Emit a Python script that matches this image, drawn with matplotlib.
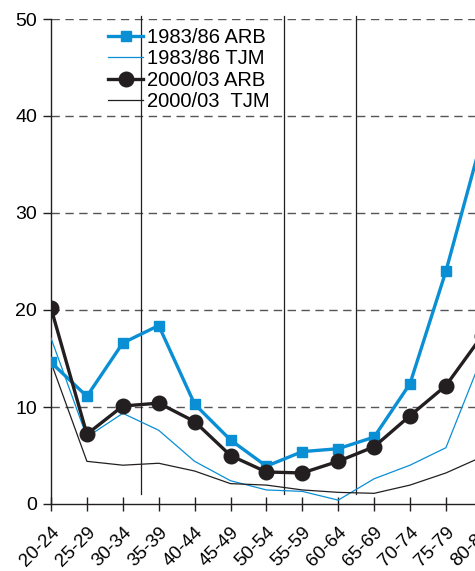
import numpy as np
import matplotlib
matplotlib.use('Agg')
import matplotlib.pyplot as plt
import matplotlib.transforms as mtransforms

plt.rcParams['font.family'] = ['Liberation Sans', 'DejaVu Sans']

# 연령대
ages = ['20-24', '25-29', '30-34', '35-39', '40-44', '45-49', '50-54',
        '55-59', '60-64', '65-69', '70-74', '75-79', '80-84']

# 조사 시기별 값
arb_1983 = [14.6, 11.1, 16.6, 18.4, 10.3, 6.6, 3.9, 5.4, 5.7, 6.9, 12.4, 24.0, 37.6]
tjm_1983 = [17.1, 6.9, 9.35, 7.6, 4.4, 2.4, 1.45, 1.3, 0.4, 2.6, 4.0, 5.8, 15.1]
arb_2000 = [20.2, 7.2, 10.1, 10.4, 8.5, 5.0, 3.3, 3.2, 4.4, 5.9, 9.1, 12.2, 17.3]
tjm_2000 = [14.6, 4.4, 4.0, 4.2, 3.4, 2.1, 1.95, 1.45, 1.2, 1.1, 1.95, 3.2, 4.85]

# 구간 구분선 위치
dividers = [2.5, 6.5, 8.5]

blue = '#0a8fd4'
black = '#231f20'

fig = plt.figure(figsize=(4.75, 5.71), dpi=100)
ax = fig.add_axes([51 / 475, 67 / 571, 448.75 / 475, 485 / 571])

x = np.arange(len(ages))

for y in [10, 20, 30, 40, 50]:
    ax.axhline(y, color='#555555', lw=1.0, ls=(0, (6, 4)), zorder=1)
for d in dividers:
    ax.plot([d, d], [1.0, 50.3], color=black, lw=0.9, zorder=1, clip_on=False)

ax.plot(x, arb_1983, color=blue, lw=2.4, marker='s', ms=6.5, label='1983/86 ARB', zorder=4)
ax.plot(x, tjm_1983, color=blue, lw=0.9, label='1983/86 TJM', zorder=3)
ax.plot(x, arb_2000, color=black, lw=2.4, marker='o', ms=10.5, label='2000/03 ARB', zorder=5)
ax.plot(x, tjm_2000, color=black, lw=0.9, label='2000/03  TJM', zorder=3)

ax.set_xlim(0, 12.5)
ax.set_ylim(0, 50)
ax.set_yticks([0, 10, 20, 30, 40, 50])
ax.set_xticks(x)
ax.set_xticklabels(ages, rotation=45, ha='right', va='top', rotation_mode='anchor')

# 눈금 라벨을 약간 왼쪽으로 이동
shift = mtransforms.ScaledTranslation(-4 / 100, 0, fig.dpi_scale_trans)
for lbl in ax.get_xticklabels():
    lbl.set_transform(lbl.get_transform() + shift)

for s in ['top', 'right']:
    ax.spines[s].set_visible(False)
for s in ['left', 'bottom']:
    ax.spines[s].set_color(black)
    ax.spines[s].set_linewidth(1.0)

ax.tick_params(axis='x', direction='inout', length=10, width=1, color=black,
               labelsize=13.5, pad=9)
ax.tick_params(axis='y', direction='out', length=6, width=1, color=black,
               labelsize=14, pad=4)

leg = ax.legend(loc='upper left', bbox_to_anchor=(108 / 475, 1 - 28 / 571),
                bbox_transform=fig.transFigure, frameon=False, fontsize=14.5,
                handlelength=1.75, handletextpad=0.2, labelspacing=0.12,
                borderpad=0, borderaxespad=0)

fig.savefig('out.png', dpi=100)
